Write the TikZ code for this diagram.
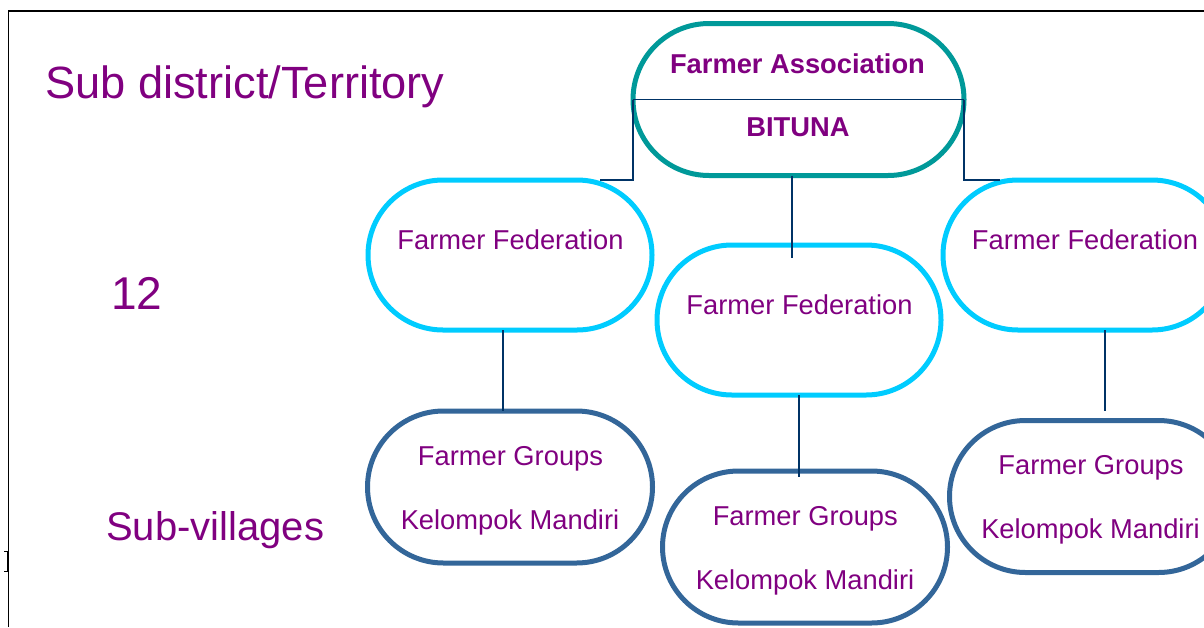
\documentclass[tikz,border=0pt]{standalone}
\usepackage{fontspec}
\setmainfont{Liberation Sans}
\usepackage{tikz}
\usetikzlibrary{positioning}

\definecolor{labelpurple}{RGB}{128,0,128}
\definecolor{assocteal}{RGB}{0,153,153}
\definecolor{fedcyan}{RGB}{0,204,255}
\definecolor{groupblue}{RGB}{51,102,153}
\definecolor{linknavy}{RGB}{0,51,102}

\begin{document}
\begin{tikzpicture}[x=1pt, y=-1pt,
    assocnode/.style={rectangle, draw=assocteal, line width=5pt, rounded corners=76pt, minimum width=331pt, minimum height=152pt, inner sep=0pt, outer sep=0pt},
    fednode/.style={rectangle, draw=fedcyan, line width=5pt, rounded corners=75pt, minimum width=284pt, minimum height=150pt, inner sep=0pt, outer sep=0pt},
    groupnode/.style={rectangle, draw=groupblue, line width=5pt, rounded corners=76pt, minimum width=285pt, minimum height=152pt, inner sep=0pt, outer sep=0pt},
    boxtext/.style={text=labelpurple, font=\fontsize{27.3}{33}\selectfont, anchor=base, inner sep=0pt},
    boldtext/.style={boxtext, font=\fontsize{27.3}{33}\selectfont\bfseries},
    sidetext/.style={text=labelpurple, anchor=base west, inner sep=0pt},
    link/.style={draw=linknavy, line width=1.5pt}
    ]
        \useasboundingbox (0,0) rectangle (1204,627);

        %Frame
        \draw[line width=1.8pt] (8.5,627) -- (8.5,11) -- (1204,11);
        \draw[line width=1pt] (4,551) -- (7,551) -- (7,571) -- (4,571);

        %Nodes
        \node[assocnode]
            (assoc)     at (798.5,99.5)     {};
        \node[fednode]
            (fedL)      at (510,255)        {};
        \node[fednode]
            (fedC)      at (799,320)        {};
        \node[fednode]
            (fedR)      at (1085,255)       {};
        \node[groupnode]
            (grpL)      at (510,487)        {};
        \node[groupnode]
            (grpC)      at (805,547)        {};
        \node[groupnode]
            (grpR)      at (1092,496.5)     {};

        %Texts
        \node[boldtext]
            (assocTop)  at (797.5,73)       {Farmer Association};
        \node[boldtext]
            (assocBot)  at (798,136.7)      {BITUNA};
        \node[boxtext]
            (fedLtext)  at (510.5,249.3)    {Farmer Federation};
        \node[boxtext]
            (fedCtext)  at (799.5,314)      {Farmer Federation};
        \node[boxtext]
            (fedRtext)  at (1085,249.3)     {Farmer Federation};
        \node[boxtext]
            (grpLtop)   at (510.5,465)      {Farmer Groups};
        \node[boxtext]
            (grpLbot)   at (510,529.3)      {Kelompok Mandiri};
        \node[boxtext]
            (grpCtop)   at (805.3,525.7)    {Farmer Groups};
        \node[boxtext]
            (grpCbot)   at (805,589.3)      {Kelompok Mandiri};
        \node[boxtext]
            (grpRtop)   at (1091,474)       {Farmer Groups};
        \node[boxtext]
            (grpRbot)   at (1090.5,538.3)   {Kelompok Mandiri};

        \node[sidetext, font=\fontsize{45.2}{51}\selectfont]
            (territory) at (45,98.3)        {Sub district/Territory};
        \node[sidetext, font=\fontsize{46}{52}\selectfont]
            (count)     at (111,309.3)      {12};
        \node[sidetext, font=\fontsize{40}{46}\selectfont]
            (subvillage) at (106,540)       {Sub-villages};

        %Lines
        \draw[link] (assoc.west) -- (assoc.east);
        \draw[link] (assoc.west) |- ([xshift=90pt]fedL.north);
        \draw[link] (assoc.east) |- ([xshift=-85pt]fedR.north);
        \draw[link] ([xshift=-6.5pt]assoc.south) -- ([xshift=-7pt,yshift=-13pt]fedC.north);
        \draw[link] ([xshift=-7pt]fedL.south) -- ([xshift=-7pt]grpL.north);
        \draw[link] (fedC.south) -- ([xshift=-6pt,yshift=-6pt]grpC.north);
        \draw[link] ([xshift=20pt]fedR.south) -- ([xshift=13pt,yshift=9.5pt]grpR.north);
\end{tikzpicture}
\end{document}
